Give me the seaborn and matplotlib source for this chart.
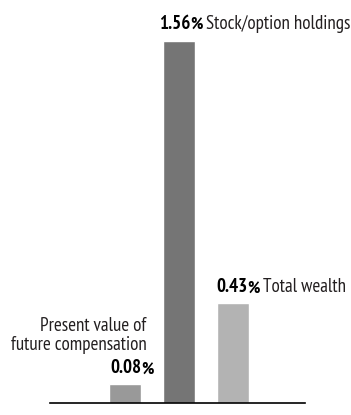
import matplotlib
matplotlib.use("Agg")
import matplotlib.pyplot as plt
import seaborn as sns
import pandas as pd

categories = ["Present value of\nfuture compensation", "Stock/option holdings", "Total wealth"]
values = [0.08, 1.56, 0.43]
value_labels = ["0.08", "1.56", "0.43"]
colors = ["#999999", "#757575", "#b3b3b3"]

sns.set_style("white")
plt.rcParams["font.family"] = ["PT Sans Narrow", "DejaVu Sans"]

df = pd.DataFrame({"cat": categories, "val": values})

fig = plt.figure(figsize=(3.51, 4.15), dpi=100)
ax = fig.add_axes([50 / 351, 12 / 415, 255 / 351, 403 / 415])
sns.barplot(data=df, x="cat", y="val", hue="cat", palette=colors, width=0.6,
            legend=False, ax=ax, saturation=1)
ax.set_xlim(-1.39, 3.33)
ax.set_ylim(0, 403 / 232)
for s in ["top", "left", "right"]:
    ax.spines[s].set_visible(False)
ax.spines["bottom"].set_color("black")
ax.spines["bottom"].set_linewidth(1.2)
ax.set_xticks([])
ax.set_yticks([])
ax.set_xlabel("")
ax.set_ylabel("")

fs = 13.7
txtc = "#231f20"


def label(x, y, num, name):
    t1 = ax.text(x, y, num, fontsize=fs, fontweight="bold", color="black", ha="left", va="baseline")
    t2 = ax.annotate("%", xy=(1, 0), xycoords=t1, xytext=(0, 0), textcoords="offset points",
                     fontsize=fs * 0.9, fontweight="bold", color="black", va="bottom")
    ax.annotate(name, xy=(1, 0), xycoords=t2, xytext=(2.5, 0), textcoords="offset points",
                fontsize=fs, color=txtc, va="bottom")


label(1 - 0.3 - 4 / 54, values[1] + 12 / 232, value_labels[1], categories[1])
label(2 - 0.3 - 1 / 54, values[2] + 11 / 232, value_labels[2], categories[2])

# Present value of future compensation
t = ax.text(0.30, values[0] + 11 / 232, value_labels[0], fontsize=fs, fontweight="bold",
            color="black", ha="right", va="baseline")
ax.annotate("%", xy=(1, 0), xycoords=t, xytext=(0, 0), textcoords="offset points",
            fontsize=fs * 0.9, fontweight="bold", color="black", va="bottom")
ax.text(0.3 + 5 / 54, values[0] + 34 / 232, categories[0], fontsize=fs, color=txtc,
        ha="right", va="baseline", linespacing=1.1)

fig.savefig("out.png", dpi=100)
